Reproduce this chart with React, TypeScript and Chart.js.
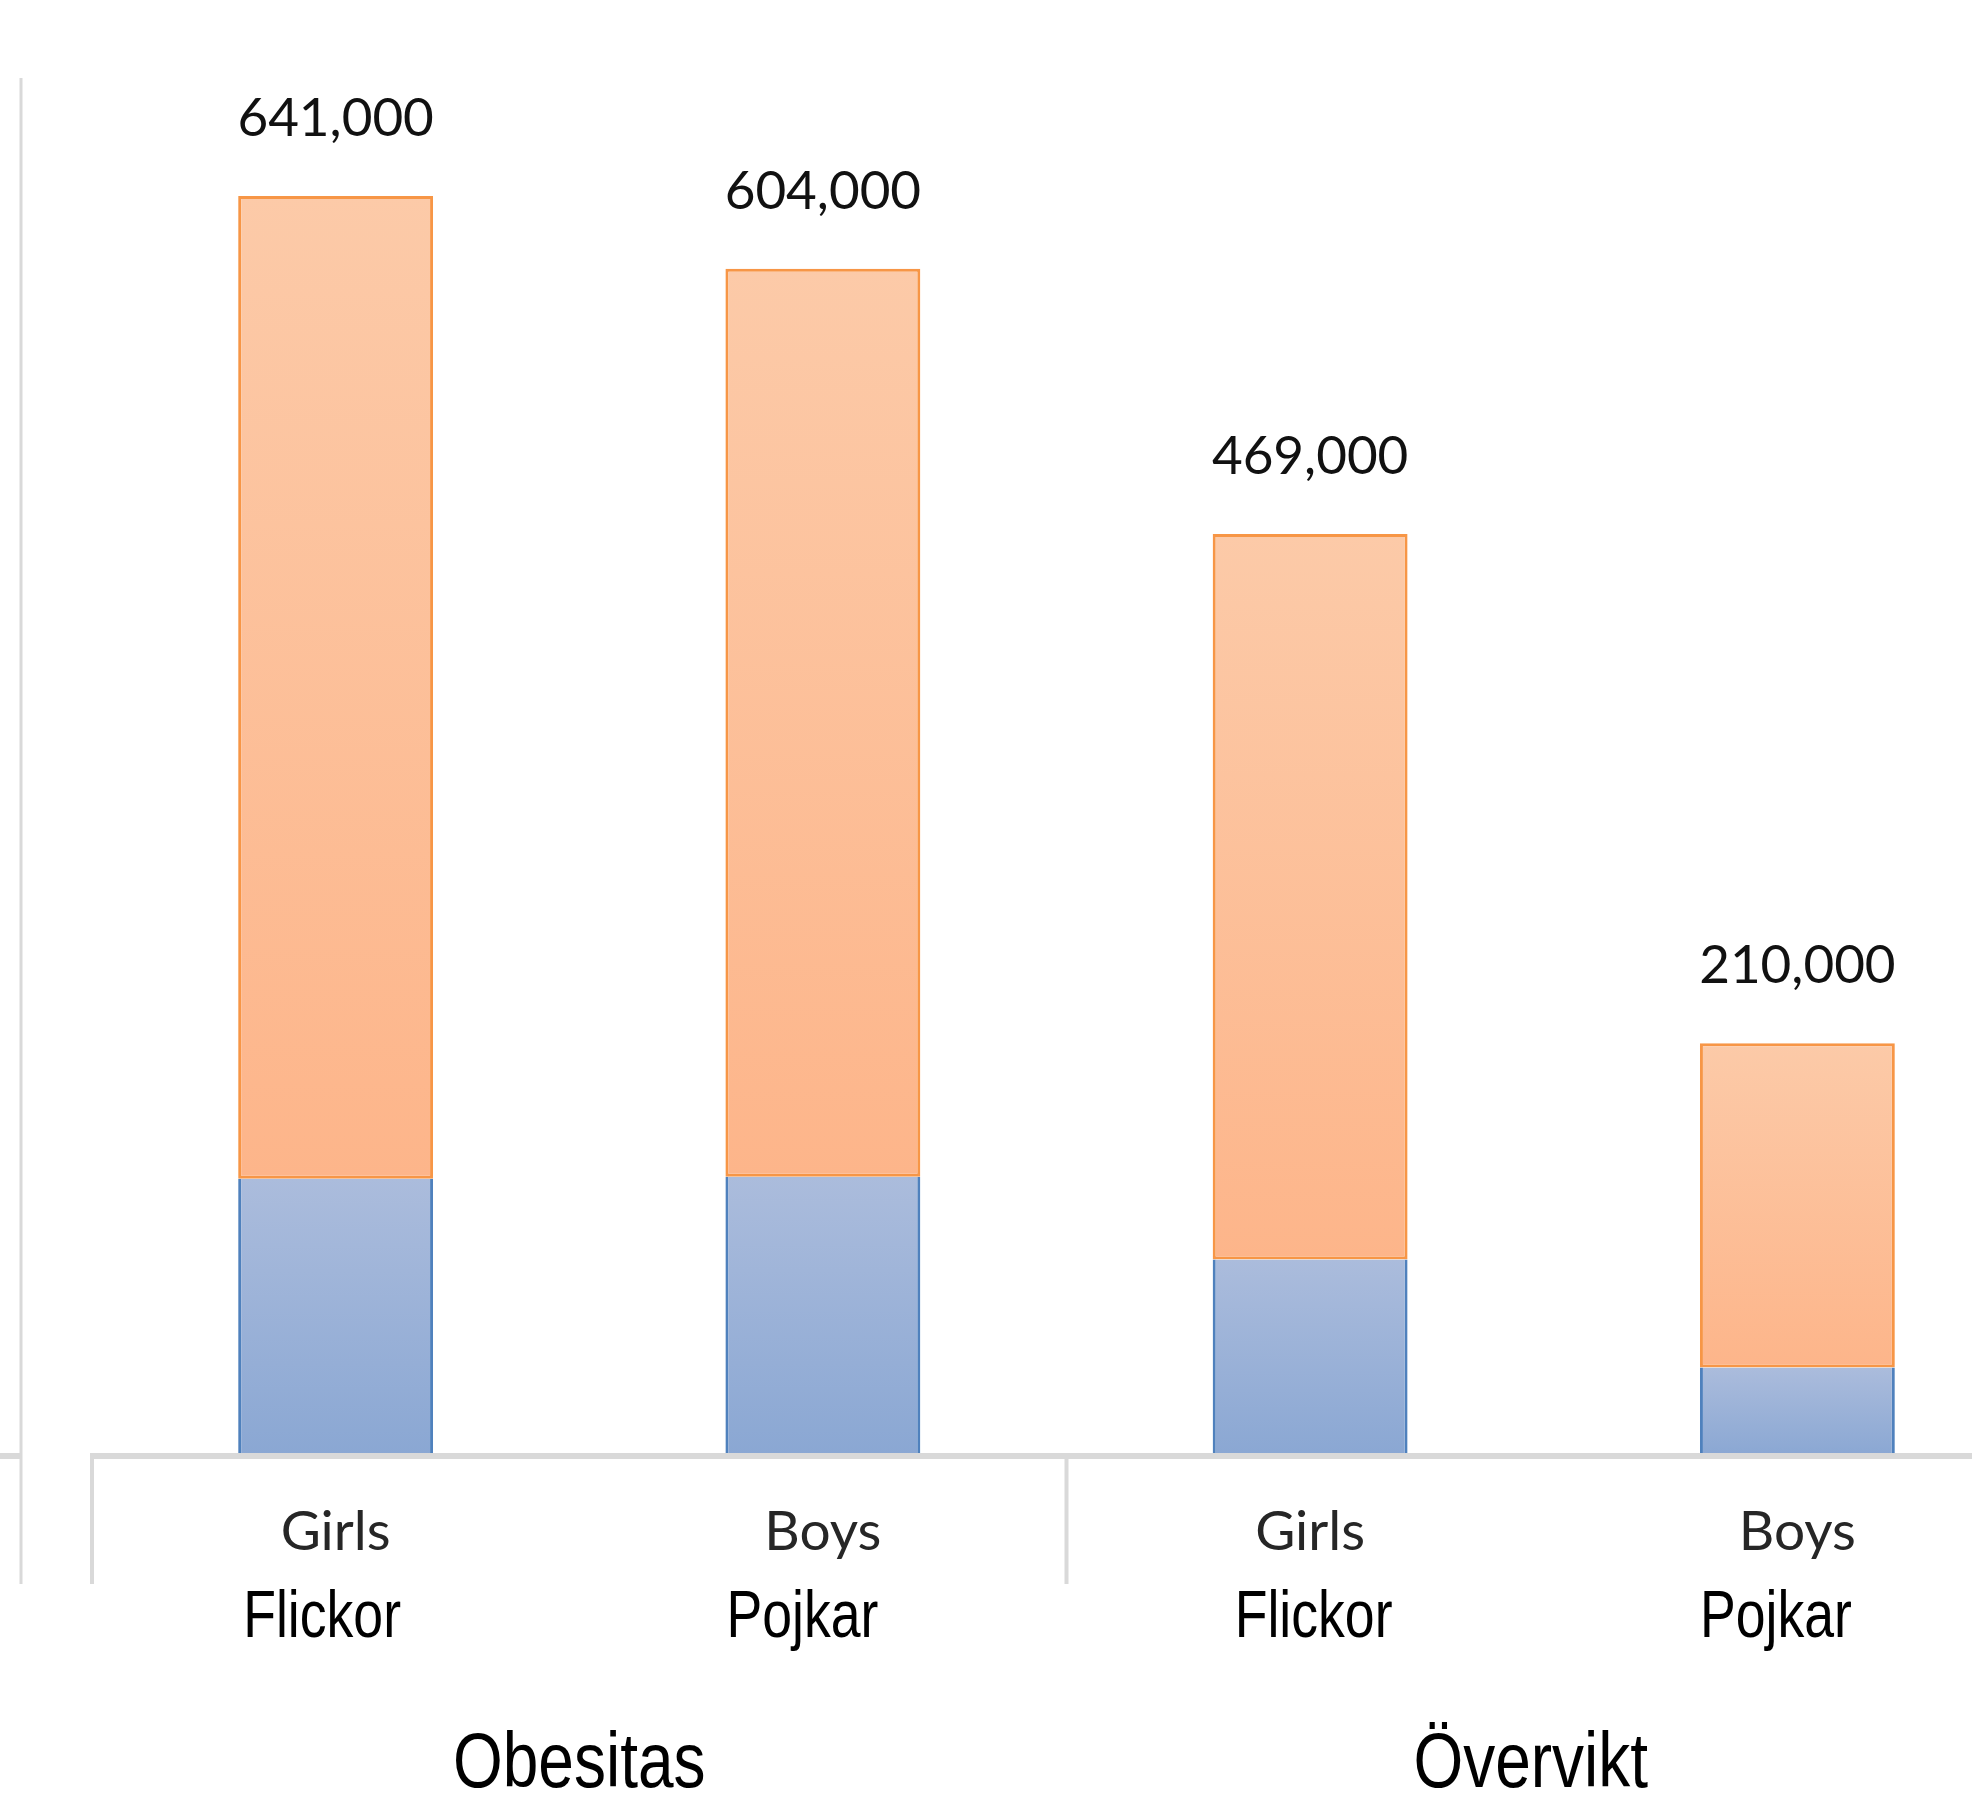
import React, { useEffect, useRef } from "react";
import { Chart, registerables } from "chart.js";

Chart.register(...registerables);

// ---- data ----
const categories = ["Girls", "Boys", "Girls", "Boys"];
const swedishLabels = ["Flickor", "Pojkar", "Flickor", "Pojkar"];
const groupLabels = ["Obesitas", "Övervikt"];
const blueValues = [141000, 142000, 100000, 45000];
const orangeValues = [500000, 462000, 369000, 165000];
const yMax = 700000;

// ---- styling constants ----
const CANVAS_W = 2060;
const CANVAS_H = 1793;
const GRID = "#d9d9d9";
const ORANGE_BORDER = "#f79646";
const BLUE_BORDER = "#4f81bd";
const swedishDx = [5, 1, 22, 0];
const groupDx = [0, -23];

function gradientFor(ctx: any, seriesIdx: number, top: string, bottom: string, fallback: string) {
  const chart = ctx.chart;
  if (!chart.chartArea || ctx.type !== "data") return fallback;
  const i = ctx.dataIndex;
  const y = chart.scales.y;
  const lo = seriesIdx === 0 ? 0 : blueValues[i];
  const hi = seriesIdx === 0 ? blueValues[i] : blueValues[i] + orangeValues[i];
  const yTop = y.getPixelForValue(hi);
  const yBot = y.getPixelForValue(lo);
  if (!isFinite(yTop) || !isFinite(yBot) || yTop === yBot) return fallback;
  const g = chart.ctx.createLinearGradient(0, yTop, 0, yBot);
  g.addColorStop(0, top);
  g.addColorStop(1, bottom);
  return g;
}

const overlayPlugin = {
  id: "overlay",
  afterDatasetsDraw(chart: any) {
    const { ctx, chartArea, scales } = chart;
    const x = scales.x;
    const y = scales.y;
    const base = y.getPixelForValue(0);
    const line = (x1: number, y1: number, x2: number, y2: number) => {
      ctx.beginPath();
      ctx.moveTo(x1, y1);
      ctx.lineTo(x2, y2);
      ctx.stroke();
    };
    ctx.save();
    ctx.strokeStyle = GRID;
    // left vertical axis line
    ctx.lineWidth = 3;
    line(21, chartArea.top - 2, 21, 1584);
    // baseline stub and baseline
    ctx.lineWidth = 6;
    line(0, base, 20, base);
    line(chartArea.left - 2, base, chart.width, base);
    // group separators
    ctx.lineWidth = 4;
    const mid = (x.getPixelForValue(1) + x.getPixelForValue(2)) / 2;
    line(chartArea.left, base, chartArea.left, 1584);
    line(mid, base, mid, 1584);

    const meta = chart.getDatasetMeta(1);
    // value labels
    ctx.fillStyle = "#111111";
    ctx.textAlign = "center";
    ctx.textBaseline = "alphabetic";
    ctx.font = "53px Lato";
    for (let i = 0; i < categories.length; i++) {
      const total = blueValues[i] + orangeValues[i];
      const px = x.getPixelForValue(i);
      ctx.fillText(total.toLocaleString("en-US"), px, y.getPixelForValue(total) - 60);
    }
    // English category labels
    ctx.fillStyle = "#262626";
    ctx.font = "55px Lato";
    for (let i = 0; i < categories.length; i++) {
      ctx.fillText(categories[i], x.getPixelForValue(i), 1550);
    }
    // Swedish labels (narrow)
    ctx.fillStyle = "#000000";
    ctx.textAlign = "left";
    for (let i = 0; i < swedishLabels.length; i++) {
      const el = meta.data[i];
      const left = el.x - el.width / 2;
      ctx.save();
      ctx.translate(left + swedishDx[i], 1637);
      ctx.scale(0.8, 1);
      ctx.font = "67px 'Liberation Sans'";
      ctx.fillText(swedishLabels[i], 0, 0);
      ctx.restore();
    }
    // group labels
    const groupCenters = [
      (chartArea.left + mid) / 2,
      (mid + (x.getPixelForValue(3) + (x.getPixelForValue(3) - x.getPixelForValue(2)) / 2)) / 2,
    ];
    ctx.textAlign = "center";
    for (let g = 0; g < groupLabels.length; g++) {
      ctx.save();
      ctx.translate(groupCenters[g] + groupDx[g], 1787);
      ctx.scale(0.82, 1);
      ctx.font = "78px 'Liberation Sans'";
      ctx.fillText(groupLabels[g], 0, 0);
      ctx.restore();
    }
    ctx.restore();
  },
};

export default function App() {
  const ref = useRef<HTMLCanvasElement | null>(null);
  useEffect(() => {
    if (!ref.current) return;
    const chart = new Chart(ref.current, {
      type: "bar",
      data: {
        labels: categories,
        datasets: [
          {
            label: "blue",
            data: blueValues,
            backgroundColor: (c: any) => gradientFor(c, 0, "#abbcdc", "#8aa7d3", "#9bb1d7"),
            borderColor: BLUE_BORDER,
            borderWidth: 3,
            borderSkipped: "end",
            barPercentage: 0.4,
            categoryPercentage: 1,
          },
          {
            label: "orange",
            data: orangeValues,
            backgroundColor: (c: any) => gradientFor(c, 1, "#fccaa8", "#fdb58a", "#fcbf99"),
            borderColor: ORANGE_BORDER,
            borderWidth: 3,
            borderSkipped: false,
            barPercentage: 0.4,
            categoryPercentage: 1,
          },
        ],
      },
      options: {
        animation: false,
        responsive: false,
        devicePixelRatio: 1,
        layout: { padding: { left: 92, right: CANVAS_W - 2041, top: 80, bottom: CANVAS_H - 1456 } },
        plugins: { legend: { display: false }, tooltip: { enabled: false }, title: { display: false } },
        scales: {
          x: { stacked: true, display: false, offset: true },
          y: { stacked: true, display: false, min: 0, max: yMax },
        },
      },
      plugins: [overlayPlugin],
    });
    return () => chart.destroy();
  }, []);
  return (
    <div style={{ position: "absolute", left: 0, top: 0, width: 1972, height: 1793, overflow: "hidden", background: "#ffffff" }}>
      <canvas ref={ref} width={CANVAS_W} height={CANVAS_H} style={{ width: CANVAS_W, height: CANVAS_H, display: "block" }} />
    </div>
  );
}
